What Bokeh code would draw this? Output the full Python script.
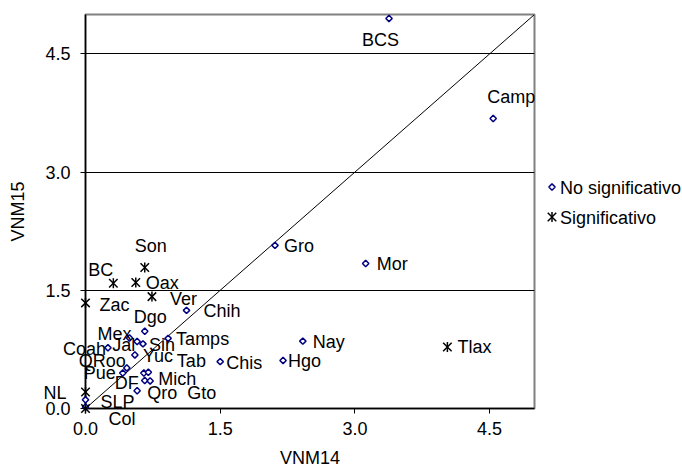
import math
from bokeh.plotting import figure
from bokeh.layouts import row
from bokeh.models import (Range1d, ColumnDataSource, FixedTicker, PrintfTickFormatter)
from bokeh.embed import file_html
from bokeh.resources import INLINE
from bokeh.core.properties import value

# ---- data ----
states = ["BCS", "Camp", "Gro", "Mor", "Chih", "Nay", "Hgo", "Tlax", "Chis", "Tab",
          "Gto", "Tamps", "Ver", "Oax", "Son", "BC", "Zac", "Dgo", "Mex", "Jal",
          "Sin", "Coah", "Yuc", "QRoo", "Pue", "DF", "Mich", "Qro", "NL", "SLP",
          "Col", "Ags"]
vnm14 = [3.38, 4.54, 2.11, 3.12, 1.125, 2.42, 2.20, 4.03, 1.50, 0.65,
         0.70, 0.92, 0.74, 0.56, 0.66, 0.31, 0.0, 0.66, 0.49, 0.575,
         0.64, 0.25, 0.55, 0.46, 0.415, 0.66, 0.72, 0.575, 0.0, 0.0,
         0.0, 0.0]
vnm15 = [4.95, 3.68, 2.07, 1.84, 1.245, 0.855, 0.61, 0.78, 0.595, 0.45,
         0.46, 0.89, 1.42, 1.60, 1.79, 1.59, 1.34, 0.98, 0.895, 0.85,
         0.82, 0.77, 0.68, 0.515, 0.45, 0.355, 0.35, 0.225, 0.21, 0.11,
         0.0, 0.02]
significant = [False, False, False, False, False, False, False, True, False, False,
               False, False, True, True, True, True, True, False, False, False,
               False, False, False, False, False, False, False, False, True, False,
               True, False]
shown_label = [s if s != "Ags" else "" for s in states]

# label placement (pixel offsets from the point, style only)
label_dx = [-27, -6, 9, 11, 17, 10, 5, 10, 6, 33,
            39, 8, 18, 10, -10, -25, 14, -11, -32, -25,
            6, -45, 8, -48, -39, -30, 8, 10, -42, 15,
            23, 0]
label_dy = [22, -22, 1, 0, 1, 1, 1, 0, 1, -12,
            21, 1, 2, 1, -21, -13, 2, -14, -4, 3,
            1, 1, 1, -7, 0, 2, -2, 2, 1, 2,
            10, 0]

ticks = [0.0, 1.5, 3.0, 4.5]
grid_ticks = [1.5, 3.0, 4.5]
diag = [0.0, 5.0]
x_title = "VNM14"
y_title = "VNM15"
legend_names = ["No significativo", "Significativo"]

# ---- layout / style ----
W, H = 682, 470
MAIN_W = 536
LEG_W = W - MAIN_W
B_TOP, B_BOTTOM = 14, 61
FONT = "Liberation Sans"
FS = "18px"
NAVY = "#000080"

src_all = ColumnDataSource(dict(x=vnm14, y=vnm15, label=shown_label,
                                dx=label_dx, dy=label_dy))
src_no = ColumnDataSource(dict(
    x=[a for a, s in zip(vnm14, significant) if not s],
    y=[b for b, s in zip(vnm15, significant) if not s]))
src_si = ColumnDataSource(dict(
    x=[a for a, s in zip(vnm14, significant) if s],
    y=[b for b, s in zip(vnm15, significant) if s]))

p = figure(width=MAIN_W, height=H, output_backend="svg", toolbar_location=None,
           x_range=Range1d(0, 5), y_range=Range1d(0, 5),
           min_border_left=85, min_border_right=2,
           min_border_top=B_TOP, min_border_bottom=B_BOTTOM)
p.background_fill_color = "white"
p.border_fill_color = "white"
p.outline_line_color = "#808080"
p.outline_line_width = 2

for ax in (p.xaxis[0], p.yaxis[0]):
    ax.ticker = FixedTicker(ticks=ticks)
    ax.formatter = PrintfTickFormatter(format="%.1f")
    ax.minor_tick_line_color = None
    ax.major_tick_in = 0
    ax.major_tick_out = 5
    ax.axis_line_color = "black"
    ax.axis_line_width = 1.5
    ax.major_tick_line_color = "black"
    ax.major_label_text_font = FONT
    ax.major_label_text_font_size = FS
    ax.major_label_text_color = "black"
    ax.axis_label_text_font = FONT
    ax.axis_label_text_font_size = FS
    ax.axis_label_text_font_style = "normal"
    ax.axis_label_text_color = "black"

p.xaxis.axis_label = x_title
p.yaxis.axis_label = y_title
p.xaxis.major_label_standoff = 8
p.xaxis.axis_label_standoff = 10
p.yaxis.major_label_standoff = 10
p.yaxis.axis_label_standoff = 14

p.xgrid.visible = False
p.ygrid.ticker = FixedTicker(ticks=grid_ticks)
p.ygrid.grid_line_color = "black"
p.ygrid.grid_line_width = 1

p.line(diag, diag, line_color="black", line_width=1)

diamond_style = dict(marker="square", angle=math.pi / 4, size=4.5, line_color=NAVY,
                     fill_color="white", line_width=1.5, level="overlay")
x_style = dict(marker="x", size=12, line_color="black", line_width=1.5, level="overlay")
bar_style = dict(marker="dash", angle=math.pi / 2, size=10, line_color="black",
                 line_width=1.5, level="overlay")

p.scatter("x", "y", source=src_no, **diamond_style)
p.scatter("x", "y", source=src_si, **x_style)
p.scatter("x", "y", source=src_si, **bar_style)

p.text("x", "y", text="label", x_offset="dx", y_offset="dy", source=src_all,
       text_font=value(FONT), text_font_size=FS, text_color="black",
       text_align="left", text_baseline="middle", level="overlay")

# ---- legend panel: a small figure whose units are pixels ----
# (its frame is aligned with the main frame by the row layout)
leg = figure(width=LEG_W, height=H, output_backend="svg", toolbar_location=None,
             x_range=Range1d(0, LEG_W), y_range=Range1d(B_BOTTOM, H - B_TOP),
             x_axis_location=None, y_axis_location=None,
             min_border_left=0, min_border_right=0,
             min_border_top=B_TOP, min_border_bottom=B_BOTTOM,
             outline_line_color=None)
leg.grid.visible = False
leg.background_fill_color = "white"
leg.border_fill_color = "white"
key_x = [15.5, 15.5]
key_y = [H - 187, H - 217]
leg.scatter([key_x[0]], [key_y[0]], **diamond_style)
leg.scatter([key_x[1]], [key_y[1]], **x_style)
leg.scatter([key_x[1]], [key_y[1]], **bar_style)
leg.text(key_x, key_y, text=legend_names, x_offset=8, y_offset=1,
         text_font=value(FONT), text_font_size=FS, text_color="black",
         text_align="left", text_baseline="middle", level="overlay")

layout = row(p, leg, spacing=0)
open("out.html", "w").write(file_html(layout, INLINE))
